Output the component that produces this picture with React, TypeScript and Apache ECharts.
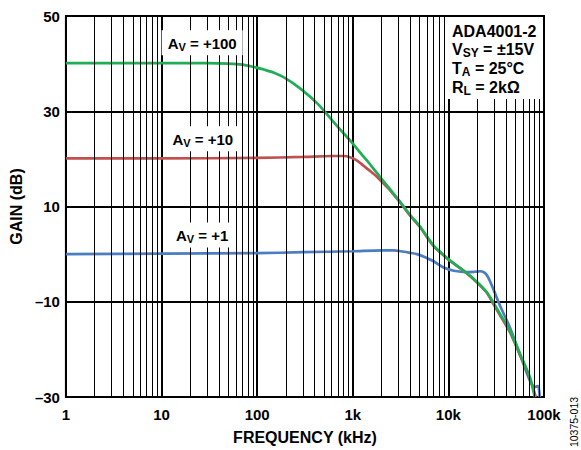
import React, { useEffect, useRef } from "react";
import * as echarts from "echarts";

const FONT = "'Liberation Sans', Arial, sans-serif";

// Tick labels
const xTickValues = [1, 10, 100, 1000, 10000, 100000];
const xTickLabels = ["1", "10", "100", "1k", "10k", "100k"];
const yTickValues = [-30, -10, 10, 30, 50];
const yTickLabels = ["–30", "–10", "10", "30", "50"];

// Minor grid (log) positions
const decades = [1, 10, 100, 1000, 10000];
const minorMultipliers = [2, 3, 4, 5, 6, 7, 8, 9];

// A_V = +100 (green)
const freqAv100 = [1, 10, 30, 50, 70, 88, 120, 150, 195, 290, 433, 596, 760, 962, 1220, 1553, 2000, 2507, 3200, 4047, 5000, 7000, 8500, 10000, 13400, 18200, 25000, 29600, 34800, 44000, 56000, 71000, 80000];
const gainAv100 = [40.1, 40.1, 40.1, 40.0, 39.8, 39.4, 38.7, 38.1, 37.0, 34.6, 31.5, 28.3, 25.9, 23.6, 21.1, 18.6, 15.8, 13.4, 10.7, 8.05, 5.9, 1.8, 0.2, -1.1, -3.0, -5.1, -7.9, -10.2, -12.6, -16.1, -20.9, -25.8, -30];

// A_V = +10 (red)
const freqAv10 = [1, 10, 100, 300, 600, 800, 950, 1100, 1220, 1380, 1553, 1800, 2100, 2507, 3200, 4047, 5000, 7000, 10000, 13400, 18200, 25000, 29600, 34800, 44000, 56000, 71000, 82000];
const gainAv10 = [20.1, 20.1, 20.2, 20.4, 20.6, 20.6, 20.3, 19.7, 19.0, 18.1, 17.3, 16.2, 14.8, 13.2, 10.6, 7.9, 5.8, 1.7, -1.1, -3.0, -5.2, -8.0, -10.5, -12.9, -16.4, -21.2, -26.0, -30];

// A_V = +1 (blue)
const freqAv1 = [1, 10, 100, 300, 1000, 2000, 2700, 3200, 3900, 4700, 5800, 7000, 8900, 11400, 15700, 19000, 21500, 23500, 25000, 27000, 29600, 34800, 44000, 56000, 71000, 80000, 87000, 90000];
const gainAv1 = [0.0, 0.1, 0.2, 0.4, 0.6, 0.8, 0.8, 0.6, 0.3, 0.0, -0.7, -1.5, -2.8, -3.5, -3.8, -3.7, -3.6, -3.8, -4.3, -5.5, -7.4, -10.9, -15.4, -21.0, -26.5, -27.9, -27.7, -30];

// Curve label anchors [freq, gain]
const labelAv100: [number, number] = [26.6, 44.4];
const labelAv10: [number, number] = [27, 24.2];
const labelAv1: [number, number] = [26.6, 4.0];

const annotationLines = [
  "{b|ADA4001-2}",
  "{b|V}{s|SY}{b| = ±15V}",
  "{b|T}{s|A}{b| = 25°C}",
  "{b|R}{s|L}{b| = 2kΩ}",
];

const GREEN = "#1fae55";
const RED = "#c0504d";
const BLUE = "#4a7ec0";

const pairs = (xs: number[], ys: number[]) => xs.map((x, i) => [x, ys[i]]);

const richStyles = {
  b: { fontFamily: FONT, fontSize: 15, fontWeight: "bold", color: "#000" },
  s: { fontFamily: FONT, fontSize: 11, fontWeight: "bold", color: "#000", padding: [7, 0, 0, 0] },
};

const richAnno = {
  b: { fontFamily: FONT, fontSize: 16, fontWeight: "bold", color: "#000" },
  s: { fontFamily: FONT, fontSize: 12, fontWeight: "bold", color: "#000", padding: [7, 0, 0, 0] },
};

function curveLabel(coord: [number, number], text: string) {
  return {
    silent: true,
    symbol: "circle",
    symbolSize: 1,
    itemStyle: { color: "rgba(0,0,0,0)" },
    data: [
      {
        coord,
        label: {
          show: true,
          position: "inside",
          formatter: text,
          backgroundColor: "#fff",
          padding: [4, 6, 3, 6],
          rich: richStyles,
        },
      },
    ],
  };
}

export default function App() {
  const ref = useRef<HTMLDivElement>(null);
  useEffect(() => {
    if (!ref.current) return;
    const chart = echarts.init(ref.current, null, { renderer: "svg" });
    const minorLines: number[] = [];
    decades.forEach((d) => minorMultipliers.forEach((m) => minorLines.push(d * m)));

    const lineSeries = (name: string, data: number[][], color: string, label: any) => ({
      name,
      type: "line",
      z: 3,
      data,
      showSymbol: false,
      smooth: 0.25,
      lineStyle: { color, width: 2.7 },
      itemStyle: { color },
      markPoint: label,
    });

    const option: any = {
      animation: false,
      backgroundColor: "#fff",
      grid: {
        left: 63,
        right: 37,
        top: 16,
        bottom: 50,
        show: true,
        borderColor: "#000",
        borderWidth: 2,
        backgroundColor: "transparent",
      },
      xAxis: {
        type: "log",
        logBase: 10,
        min: 1,
        max: 100000,
        axisLine: { show: false },
        axisTick: { show: false },
        splitLine: { show: true, lineStyle: { color: "#000", width: 2 } },
        axisLabel: {
          margin: 10,
          fontFamily: FONT,
          fontSize: 15,
          fontWeight: "bold",
          color: "#000",
          formatter: (v: number) => {
            const i = xTickValues.findIndex((t) => Math.abs(t - v) / t < 1e-6);
            return i >= 0 ? xTickLabels[i] : "";
          },
        },
        name: "FREQUENCY (kHz)",
        nameLocation: "middle",
        nameGap: 32,
        nameTextStyle: { fontFamily: FONT, fontSize: 16, fontWeight: "bold", color: "#000" },
      },
      yAxis: {
        type: "value",
        min: -30,
        max: 50,
        interval: 20,
        axisLine: { show: false },
        axisTick: { show: false },
        splitLine: { show: true, lineStyle: { color: "#000", width: 2 } },
        axisLabel: {
          margin: 6,
          fontFamily: FONT,
          fontSize: 15,
          fontWeight: "bold",
          color: "#000",
          formatter: (v: number) => {
            const i = yTickValues.indexOf(Math.round(v));
            return i >= 0 ? yTickLabels[i] : "";
          },
        },
        name: "GAIN (dB)",
        nameLocation: "middle",
        nameGap: 39,
        nameTextStyle: { fontFamily: FONT, fontSize: 16, fontWeight: "bold", color: "#000" },
      },
      series: [
        {
          type: "line",
          z: 1,
          data: [],
          silent: true,
          markLine: {
            silent: true,
            symbol: ["none", "none"],
            label: { show: false },
            lineStyle: { color: "#000", width: 1, type: "solid" },
            emphasis: { disabled: true },
            data: minorLines.map((f) => ({ xAxis: f })),
          },
        },
        lineSeries("Av1", pairs(freqAv1, gainAv1), BLUE, curveLabel(labelAv1, "{b|A}{s|V}{b| = +1}")),
        lineSeries("Av10", pairs(freqAv10, gainAv10), RED, curveLabel(labelAv10, "{b|A}{s|V}{b| = +10}")),
        lineSeries("Av100", pairs(freqAv100, gainAv100), GREEN, curveLabel(labelAv100, "{b|A}{s|V}{b| = +100}")),
      ],
      graphic: [
        {
          type: "rect",
          z: 10,
          shape: { x: 448, y: 17, width: 95, height: 82 },
          style: { fill: "#fff" },
          silent: true,
        },
        ...annotationLines.map((t, i) => ({
          type: "text",
          z: 11,
          x: 452,
          y: 31 + i * 18.7,
          silent: true,
          style: {
            text: t,
            verticalAlign: "middle",
            align: "left",
            rich: richAnno,
          },
        })),
        {
          type: "text",
          z: 11,
          x: 574,
          y: 422,
          rotation: Math.PI / 2,
          silent: true,
          style: {
            text: "10375-013",
            fontFamily: FONT,
            fontSize: 10.5,
            fill: "#000",
            align: "center",
            verticalAlign: "middle",
          },
        },
      ],
    };
    chart.setOption(option);
    return () => chart.dispose();
  }, []);
  return <div ref={ref} style={{ width: 581, height: 450, position: "absolute", left: 0, top: 0 }} />;
}
